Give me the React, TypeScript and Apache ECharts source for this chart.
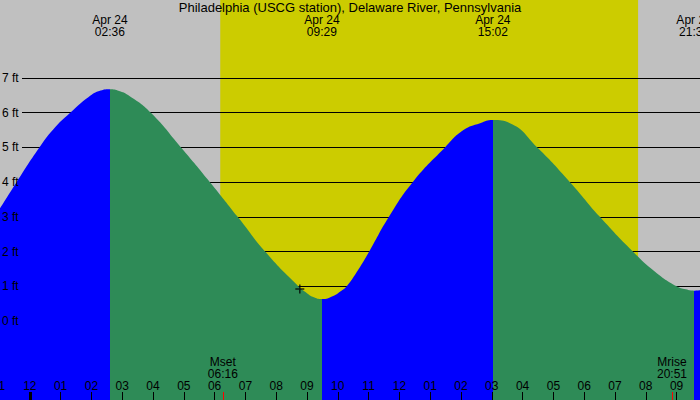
import React, { useEffect, useRef } from "react";
import * as echarts from "echarts";

const stationTitle = "Philadelphia (USCG station), Delaware River, Pennsylvania";
const dateLabel = "Apr 24";

// tide curve (hours since midnight, feet)
const tideHours = [-1, -0.43, 0.31, 0.76, 1.31, 1.9, 2.3, 2.6, 2.9, 3.19, 3.93, 4.91, 5.85, 6.75, 7.64, 8.72, 9.0, 9.2, 9.48, 9.85, 10.07, 10.29, 10.61, 11.02, 11.66, 12.43, 13.48, 14.08, 14.62, 15.03, 15.59, 16.48, 17.54, 18.51, 19.58, 20.3, 21.0, 21.3, 21.57, 21.76];
const tideFeet = [3.2, 4.0, 5.0, 5.52, 6.0, 6.45, 6.64, 6.68, 6.63, 6.51, 6.0, 5.0, 4.0, 3.0, 2.0, 1.0, 0.8, 0.69, 0.63, 0.72, 0.84, 1.0, 1.4, 2.0, 3.0, 4.0, 5.0, 5.5, 5.7, 5.79, 5.7, 5.0, 4.0, 3.0, 2.0, 1.42, 1.0, 0.91, 0.87, 0.88];

const extremeTimes = ["02:36", "09:29", "15:02", "21:34"];
const extremeKinds = ["high", "low", "high", "low"];

const sunTimes = ["06:11", "19:45"];
const moonEvents = ["Mset", "Mrise"];
const moonTimes = ["06:16", "20:51"];

const hourTicks = [-1, 0, 1, 2, 3, 4, 5, 6, 7, 8, 9, 10, 11, 12, 13, 14, 15, 16, 17, 18, 19, 20, 21];
const midnightTicks = [0];
const footLabels = [0, 1, 2, 3, 4, 5, 6, 7];

const nowTime = "08:46";
const nowFeet = 0.92;

const X_MIN = -1;
const X_MAX = 21.76;
const Y_MIN = -2.28;
const Y_MAX = 9.25;
const GRIDLINE_START = -0.253;

const BLUE = "#0000ff";
const GREEN = "#2e8b57";
const DAY = "#cccc00";
const NIGHT = "#c0c0c0";
const FONT = "Liberation Sans, Arial, sans-serif";

function toHours(t: string): number {
  const [h, m] = t.split(":").map(Number);
  return h + m / 60;
}

function hourLabel(v: number): string {
  const h = ((Math.round(v) % 12) + 12) % 12;
  const hh = h === 0 ? 12 : h;
  return hh < 10 ? "0" + hh : String(hh);
}

export default function App() {
  const ref = useRef<HTMLDivElement>(null);

  useEffect(() => {
    if (!ref.current) return;
    const chart = echarts.init(ref.current, undefined, { renderer: "svg" });

    const extremeHours = extremeTimes.map(toHours);
    const pieces: any[] = [];
    extremeHours.forEach((b, i) => {
      const color = extremeKinds[i] === "high" ? BLUE : GREEN;
      if (i === 0) pieces.push({ lt: b, color });
      else pieces.push({ gte: extremeHours[i - 1], lt: b, color });
    });
    const lastKind = extremeKinds[extremeKinds.length - 1];
    pieces.push({ gte: extremeHours[extremeHours.length - 1], color: lastKind === "high" ? GREEN : BLUE });

    const moonHours = moonTimes.map(toHours);
    const grid = { left: -1, right: 0, top: 0, bottom: 0, containLabel: false, outerBoundsMode: "none" };
    const hiddenY = (gi: number) => ({
      type: "value", gridIndex: gi, min: Y_MIN, max: Y_MAX, show: false,
    });

    const option: any = {
      animation: false,
      backgroundColor: NIGHT,
      textStyle: { fontFamily: FONT },
      title: {
        text: stationTitle,
        left: "center",
        top: 1,
        padding: 0,
        textStyle: { fontSize: 13, fontWeight: "normal", color: "#000", fontFamily: FONT },
      },
      grid: [grid, grid, grid, grid],
      visualMap: {
        type: "piecewise",
        show: false,
        dimension: 0,
        seriesIndex: 2,
        pieces,
      },
      xAxis: [
        {
          type: "value", gridIndex: 0, min: X_MIN, max: X_MAX, position: "bottom", z: 10,
          axisLine: { show: false, onZero: false }, splitLine: { show: false },
          axisTick: { show: true, inside: true, length: 8, customValues: hourTicks, lineStyle: { color: "#000", width: 1 } },
          axisLabel: { show: true, inside: true, margin: 8, customValues: hourTicks, formatter: (v: number) => hourLabel(v), color: "#000", fontSize: 12, lineHeight: 12, fontFamily: FONT },
        },
        {
          type: "value", gridIndex: 1, min: X_MIN, max: X_MAX, position: "top", z: 10,
          axisLine: { show: false, onZero: false }, splitLine: { show: false }, axisTick: { show: false },
          axisLabel: {
            show: true, inside: true, margin: 14, customValues: extremeHours,
            formatter: (v: number) => {
              const i = extremeHours.findIndex((e) => Math.abs(e - v) < 1e-6);
              return dateLabel + "\n" + (i >= 0 ? extremeTimes[i] : "");
            },
            color: "#000", fontSize: 12, lineHeight: 12, align: "center", fontFamily: FONT,
          },
        },
        {
          type: "value", gridIndex: 2, min: X_MIN, max: X_MAX, position: "bottom", z: 11,
          axisLine: { show: false, onZero: false }, splitLine: { show: false },
          axisTick: { show: true, inside: true, length: 8, customValues: moonHours, lineStyle: { color: "#ff0000", width: 1 } },
          axisLabel: {
            show: true, inside: true, margin: 20, customValues: moonHours,
            formatter: (v: number) => {
              const i = moonHours.findIndex((e) => Math.abs(e - v) < 1e-6);
              return i >= 0 ? moonEvents[i] + "\n" + moonTimes[i] : "";
            },
            color: "#000", fontSize: 12, lineHeight: 12, align: "center", fontFamily: FONT,
          },
        },
        {
          type: "value", gridIndex: 3, min: X_MIN, max: X_MAX, position: "bottom", z: 11,
          axisLine: { show: false, onZero: false }, splitLine: { show: false },
          axisTick: { show: true, inside: true, length: 8, customValues: midnightTicks, lineStyle: { color: "#000", width: 3 } },
          axisLabel: { show: false },
        },
      ],
      yAxis: [
        {
          type: "value", gridIndex: 0, min: Y_MIN, max: Y_MAX, z: 10,
          axisLine: { show: false, onZero: false }, axisTick: { show: false }, splitLine: { show: false },
          axisLabel: { show: true, inside: true, margin: 3, customValues: footLabels, formatter: (v: number) => `${v} ft`, color: "#000", fontSize: 12, fontFamily: FONT },
        },
        hiddenY(1),
        hiddenY(2),
        hiddenY(3),
      ],
      series: [
        {
          name: "daylight", type: "line", data: [], z: 1, silent: true,
          markArea: {
            silent: true,
            z: 1,
            itemStyle: { color: DAY, opacity: 1 },
            data: [[{ xAxis: toHours(sunTimes[0]) }, { xAxis: toHours(sunTimes[1]) }]],
          },
        },
        {
          name: "gridlines", type: "line", data: [], z: 2, silent: true,
          markLine: {
            silent: true,
            z: 2,
            symbol: ["none", "none"],
            label: { show: false },
            lineStyle: { color: "#000", width: 1, type: "solid" },
            data: footLabels.map((v) => [{ coord: [GRIDLINE_START, v] }, { coord: [X_MAX, v] }]),
          },
        },
        {
          name: "tide", type: "line", z: 3, silent: true,
          data: tideHours.map((h, i) => [h, tideFeet[i]]),
          smooth: 0.5,
          showSymbol: false,
          lineStyle: { width: 0 },
          areaStyle: { origin: "start", opacity: 1 },
        },
        {
          name: "now", type: "scatter", z: 4, silent: true,
          data: [[toHours(nowTime), nowFeet]],
          symbol: "path://M0,5L10,5M5,0L5,10",
          symbolSize: 9,
          itemStyle: { color: "transparent", borderColor: "#000", borderWidth: 1.5 },
        },
      ],
    };

    chart.setOption(option);
    return () => chart.dispose();
  }, []);

  return <div ref={ref} style={{ width: 700, height: 400, position: "fixed", left: 0, top: 0 }} />;
}
